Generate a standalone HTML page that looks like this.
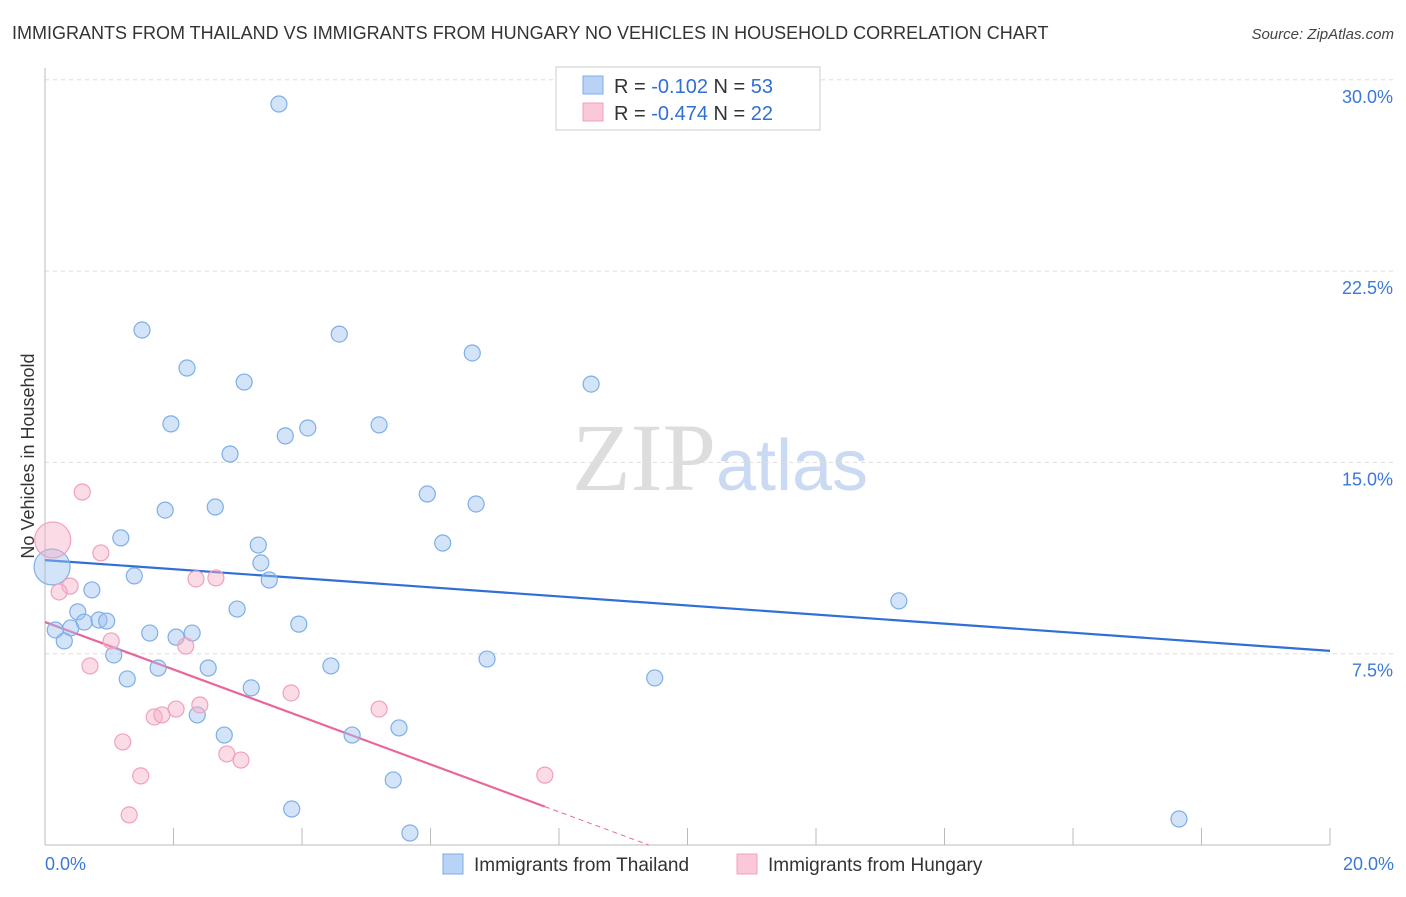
<!DOCTYPE html>
<html><head><meta charset="utf-8"><style>
body{margin:0;background:#fff;font-family:"Liberation Sans",sans-serif}
svg text{font-family:"Liberation Sans",sans-serif}
</style></head><body>
<svg id="chart" width="1406" height="892" viewBox="0 0 1406 892">
<text x="12" y="39" font-size="18" fill="#333">IMMIGRANTS FROM THAILAND VS IMMIGRANTS FROM HUNGARY NO VEHICLES IN HOUSEHOLD CORRELATION CHART</text>
<text x="1394" y="39" font-size="15" fill="#444" text-anchor="end" font-style="italic">Source: ZipAtlas.com</text>
<text x="720" y="490" font-size="96" text-anchor="middle"><tspan font-family="Liberation Serif,serif" fill="#ddd">ZIP</tspan><tspan fill="#c9daf2" font-size="72">atlas</tspan></text>
<text transform="translate(34,456) rotate(-90)" font-size="18" fill="#333" text-anchor="middle">No Vehicles in Household</text>
<g id="grid"></g><g id="axes"></g><g id="trends"></g><g id="pts"></g>
<g>
<rect x="556" y="67" width="264" height="63" fill="#fff" stroke="#ccc"/>
<rect x="583" y="76" width="20" height="18" fill="#b8d3f5" stroke="#7eaee8"/>
<text x="614" y="93" font-size="20" fill="#333">R = <tspan fill="#2f6fd6">-0.102</tspan>   N = <tspan fill="#2f6fd6">53</tspan></text>
<rect x="583" y="103" width="20" height="18" fill="#fbc8d7" stroke="#f0a0bc"/>
<text x="614" y="120" font-size="20" fill="#333">R = <tspan fill="#2f6fd6">-0.474</tspan>   N = <tspan fill="#2f6fd6">22</tspan></text>
</g>
<g>
<rect x="443" y="854" width="20" height="20" fill="#b8d3f5" stroke="#7eaee8"/>
<text x="474" y="871" font-size="19" fill="#333">Immigrants from Thailand</text>
<rect x="737" y="854" width="20" height="20" fill="#fbc8d7" stroke="#f0a0bc"/>
<text x="768" y="871" font-size="19" fill="#333">Immigrants from Hungary</text>
</g>
</svg>
<script>
const yTicks=[7.5,15,22.5,30];
const yTickLabels=["7.5%","15.0%","22.5%","30.0%"];
const xTickLabels=["0.0%","20.0%"];
const thaiX=[3.64,1.51,4.58,6.65,2.21,8.50,3.10,1.96,5.20,4.09,3.74,2.88,5.95,6.71,2.65,1.87,1.18,6.19,3.32,3.36,1.39,3.49,0.73,13.29,2.99,0.51,0.84,0.96,3.95,0.61,0.40,1.63,2.29,2.04,0.30,1.07,6.88,1.76,2.54,4.45,9.49,1.28,3.21,2.37,5.51,4.78,2.79,5.42,3.84,5.68,17.65,0.16,0.11];
const thaiY=[29.05,20.19,20.03,19.29,18.70,18.07,18.15,16.51,16.47,16.35,16.04,15.33,13.76,13.37,13.25,13.13,12.04,11.84,11.76,11.06,10.55,10.39,10.00,9.57,9.25,9.14,8.82,8.78,8.66,8.74,8.51,8.31,8.31,8.15,8.00,7.45,7.29,6.94,6.94,7.02,6.55,6.51,6.16,5.10,4.59,4.31,4.31,2.55,1.41,0.47,1.02,8.43,10.90];
const hunX=[0.58,0.12,0.87,2.35,2.66,0.39,0.22,1.03,2.19,0.70,3.83,2.41,2.04,1.70,1.82,5.20,1.21,2.83,3.05,1.49,7.78,1.31];
const hunY=[13.84,11.96,11.45,10.43,10.47,10.15,9.92,8.00,7.80,7.02,5.96,5.49,5.33,5.02,5.10,5.33,4.04,3.57,3.33,2.71,2.74,1.18];
const thaiTrend=[11.17,7.61];
const hunTrend=[8.74,-0.93];
const NS="http://www.w3.org/2000/svg";
const sx=v=>45+v/20*1285, sy=v=>845-v/7.5*191.3;
function mk(t,a,p){const e=document.createElementNS(NS,t);for(const k in a)e.setAttribute(k,a[k]);document.getElementById(p).appendChild(e);return e;}
yTicks.forEach((t,i)=>{
 const l=mk('line',{x1:45,x2:1394,y1:sy(t),y2:sy(t),stroke:'#ddd','stroke-dasharray':'4,4'},'grid');
 
 
 const tx=mk('text',{x:1393,y:sy(t)+23,'font-size':18,fill:'#3b78d8','text-anchor':'end'},'grid');
 tx.textContent=yTickLabels[i];
 
 
});
let a=mk('line',{x1:45,x2:45,y1:68,y2:845,stroke:'#bbb'},'axes');


a=mk('line',{x1:45,x2:1330,y1:845,y2:845,stroke:'#bbb'},'axes');


for(let i=0;i<=10;i++){const x=sx(i*2);const t=mk('line',{x1:x,x2:x,y1:828,y2:845,stroke:'#bbb'},'axes');
 
 }
[[0,45,'start'],[20,1394,'end']].forEach((d,i)=>{const t=mk('text',{x:d[1],y:870,'font-size':18,fill:'#3b78d8','text-anchor':d[2]},'axes');t.textContent=xTickLabels[i];
 
 });
function dot(x,y,big,blue){const c=mk('circle',{cx:sx(x),cy:sy(y),r:big?18:8,fill:blue?'rgba(160,196,240,0.45)':'rgba(247,178,200,0.45)',stroke:blue?'#7eaee8':'#f0a0bc','stroke-width':1.2},'pts');
 
 }
thaiX.forEach((x,i)=>dot(x,thaiY[i],i===52,true));
hunX.forEach((x,i)=>dot(x,hunY[i],i===1,false));
let l=mk('line',{x1:sx(0),y1:sy(thaiTrend[0]),x2:sx(20),y2:sy(thaiTrend[1]),stroke:'#2f6fd6','stroke-width':2.2},'trends');


const hEnd=7.78, hZero=-hunTrend[0]/hunTrend[1];
l=mk('line',{x1:sx(0),y1:sy(hunTrend[0]),x2:sx(hEnd),y2:sy(hunTrend[0]+hunTrend[1]*hEnd),stroke:'#e8669a','stroke-width':2.2},'trends');


l=mk('line',{x1:sx(hEnd),y1:sy(hunTrend[0]+hunTrend[1]*hEnd),x2:sx(hZero),y2:sy(0),stroke:'#e8669a','stroke-width':1,'stroke-dasharray':'5,4'},'trends');


</script>
</body></html>
